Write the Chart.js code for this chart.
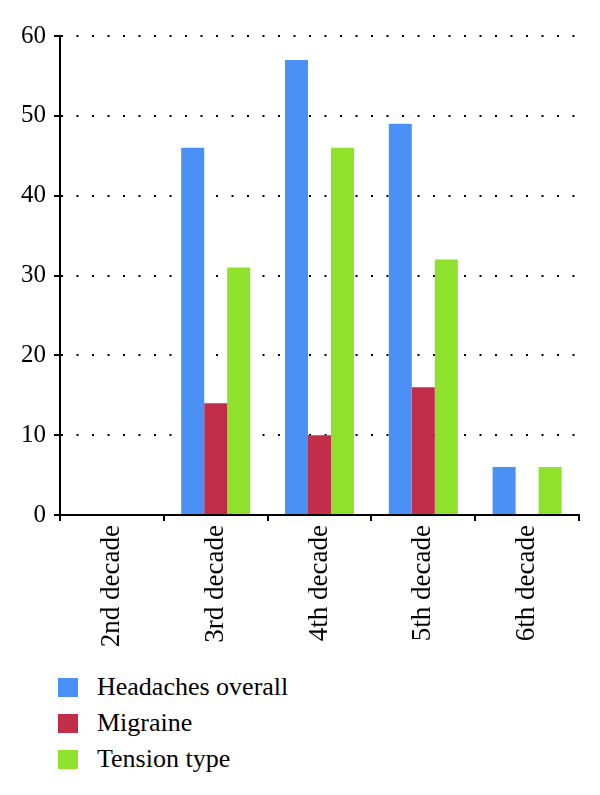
<!DOCTYPE html>
<html>
<head>
<meta charset="utf-8">
<script src="https://cdn.jsdelivr.net/npm/chart.js@4/dist/chart.umd.min.js"></script>
<style>
  html, body { margin: 0; padding: 0; background: #fff; }
  #wrap { position: relative; width: 600px; height: 660px; }
  #legend { position: absolute; left: 58px; top: 669px; font-family: "Liberation Serif", "DejaVu Serif", serif; font-size: 26px; color: #000; }
  .item { height: 36px; display: flex; align-items: center; }
  .box { width: 20px; height: 19px; margin-right: 19px; }
</style>
</head>
<body>
<div id="wrap"><canvas id="c"></canvas></div>
<div id="legend"></div>
<script>
const categories = ["2nd decade", "3rd decade", "4th decade", "5th decade", "6th decade"];
const headachesOverall = [0, 46, 57, 49, 6];
const migraine = [0, 14, 10, 16, 0];
const tensionType = [0, 31, 46, 32, 6];
const seriesNames = ["Headaches overall", "Migraine", "Tension type"];
const yTicks = [0, 10, 20, 30, 40, 50, 60];

const colors = ["#4a90f5", "#c22d4a", "#8fe22c"];
const FONT = "'Liberation Serif', 'DejaVu Serif', serif";
const H = 660;

const datasets = [headachesOverall, migraine, tensionType].map((d, i) => ({
  label: seriesNames[i],
  data: d,
  backgroundColor: colors[i],
  borderWidth: 0,
  categoryPercentage: 0.665,
  barPercentage: 1.0
}));

new Chart(document.getElementById('c'), {
  type: 'bar',
  data: { labels: categories, datasets },
  options: {
    responsive: true,
    maintainAspectRatio: false,
    animation: false,
    layout: { padding: { top: 36, right: 21, left: 0, bottom: 0 } },
    plugins: { legend: { display: false }, tooltip: { enabled: false } },
    scales: {
      x: {
        grid: { offset: true, drawOnChartArea: false, drawTicks: true, tickLength: 6, color: '#000', lineWidth: 2 },
        border: { display: true, color: '#000', width: 2 },
        ticks: { color: '#000', font: { family: FONT, size: 27 }, minRotation: 90, maxRotation: 90, padding: 4, autoSkip: false },
        afterFit: (s) => { s.height = H - 515; }
      },
      y: {
        min: 0, max: 60,
        afterBuildTicks: (s) => { s.ticks = yTicks.map(v => ({ value: v })); },
        grid: { color: '#000', lineWidth: 2, tickLength: 6, drawTicks: true, tickBorderDash: [] },
        border: { display: true, color: '#000', width: 2, dash: [2, 13.5], dashOffset: 0 },
        ticks: { color: '#000', font: { family: FONT, size: 25 }, padding: 8 },
        afterFit: (s) => { s.width = 60; }
      }
    }
  }
});

const legend = document.getElementById('legend');
seriesNames.forEach((n, i) => {
  const it = document.createElement('div');
  it.className = 'item';
  const b = document.createElement('span');
  b.className = 'box';
  b.style.background = colors[i];
  const t = document.createElement('span');
  t.textContent = n;
  it.appendChild(b); it.appendChild(t);
  legend.appendChild(it);
});
</script>
</body>
</html>
